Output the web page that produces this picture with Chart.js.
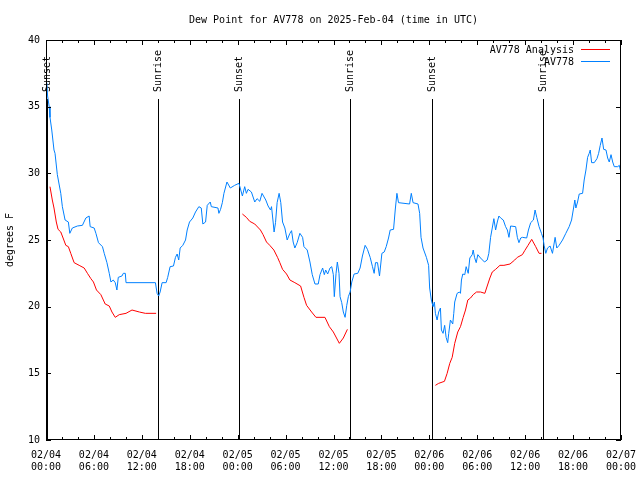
<!DOCTYPE html>
<html><head><meta charset="utf-8">
<script src="https://cdn.jsdelivr.net/npm/chart.js@4/dist/chart.umd.min.js"></script>
<style>html,body{margin:0;padding:0;background:#fff}</style>
</head><body>
<canvas id="c" width="640" height="480"></canvas>
<script>
const titleText = "Dew Point for AV778 on 2025-Feb-04 (time in UTC)";
const yAxisTitle = "degrees F";
const xTickLabels = [
  ["02/04","00:00"],["02/04","06:00"],["02/04","12:00"],["02/04","18:00"],
  ["02/05","00:00"],["02/05","06:00"],["02/05","12:00"],["02/05","18:00"],
  ["02/06","00:00"],["02/06","06:00"],["02/06","12:00"],["02/06","18:00"],
  ["02/07","00:00"]
];
const seriesNames = ["AV778 Analysis", "AV778"];
const eventHours = [0.15, 14.07, 24.13, 38.07, 48.38, 62.2];
const eventLabels = ["Sunset","Sunrise","Sunset","Sunrise","Sunset","Sunrise"];

// AV778 observations (hours since 02/04 00:00 UTC, degrees F)
const obsHours = [0.1,0.2,0.4,0.5,0.72,1.0,1.13,1.42,1.85,2.05,2.39,2.8,2.98,3.3,3.93,4.56,4.99,5.4,5.53,6.03,6.25,6.57,7.07,7.29,7.63,7.92,8.13,8.42,8.67,8.88,9.05,9.51,9.68,9.93,10.02,13.7,13.91,14.11,14.29,14.54,15.04,15.24,15.54,15.96,16.21,16.42,16.62,16.8,17.13,17.47,17.68,17.97,18.18,18.38,18.72,19.14,19.44,19.64,19.98,20.19,20.57,20.7,21.53,21.65,21.86,22.08,22.28,22.66,23.08,23.62,24.16,24.59,24.88,25.09,25.3,25.72,26.14,26.43,26.77,27.05,27.52,27.81,28.11,28.24,28.44,28.56,28.74,28.94,29.19,29.4,29.62,29.91,30.2,30.54,30.75,30.95,31.16,31.45,31.79,32.13,32.3,32.71,33.05,33.34,33.68,34.09,34.31,34.64,34.85,35.02,35.27,35.56,35.78,35.98,36.1,36.32,36.48,36.69,36.82,37.03,37.23,37.45,37.66,37.86,38.08,38.29,38.58,39.04,39.33,39.62,39.96,40.25,40.59,40.88,41.09,41.26,41.51,41.76,42.06,42.35,42.6,42.89,43.1,43.52,43.73,43.94,44.14,45.53,45.74,45.96,46.58,46.79,46.96,47.21,47.63,47.91,48.04,48.25,48.47,48.63,48.76,48.97,49.17,49.39,49.51,49.72,49.92,50.1,50.3,50.43,50.64,50.93,51.06,51.18,51.48,51.77,51.9,52.02,52.19,52.44,52.61,52.87,53.07,53.37,53.49,53.66,53.87,54.07,54.41,54.91,55.25,55.45,55.67,55.88,56.08,56.3,56.51,56.71,56.93,57.26,57.55,57.77,57.97,58.18,58.81,59.02,59.22,59.44,59.65,60.19,60.41,60.69,61.03,61.24,61.45,61.74,62.04,62.24,62.37,62.58,62.8,63.12,63.42,63.75,63.96,64.25,64.68,65.09,65.51,65.81,66.06,66.22,66.35,66.56,66.77,67.19,67.39,67.61,67.82,68.02,68.15,68.32,68.65,68.99,69.2,69.4,69.62,69.83,70.12,70.33,70.53,70.75,70.96,71.16,71.59,71.79,71.92];
const obsValues = [36.8,35.8,35.0,34.2,33.25,31.75,31.5,29.9,28.5,27.5,26.5,26.35,25.5,25.9,26.05,26.1,26.65,26.8,26.0,25.9,25.5,24.8,24.5,24.0,23.3,22.5,21.85,22.0,21.8,21.25,22.2,22.3,22.5,22.5,21.8,21.8,21.0,20.8,21.1,21.8,21.8,22.2,23.0,23.05,23.7,23.95,23.5,24.4,24.6,25.0,25.75,26.35,26.5,26.65,27.1,27.5,27.4,26.2,26.35,27.6,27.85,27.5,27.4,27.0,27.3,27.8,28.5,29.35,28.9,29.1,29.25,28.3,29.0,28.5,28.8,28.6,27.85,28.1,27.9,28.5,28.0,27.55,27.25,27.5,26.35,25.6,26.3,27.8,28.5,27.8,26.35,25.9,25.0,25.5,25.7,24.85,24.4,24.8,25.5,25.2,24.5,24.25,23.35,22.4,21.7,21.7,22.4,22.9,22.4,22.75,22.45,22.9,23.0,22.4,20.75,22.5,23.35,22.5,20.75,20.3,19.6,19.2,20.1,20.75,21.1,21.85,22.45,22.5,22.9,23.8,24.6,24.3,23.7,23.0,22.5,23.3,23.3,22.3,24.0,24.1,24.5,25.15,25.75,25.8,27.25,28.5,27.8,27.7,28.5,27.8,27.7,27.0,25.2,24.4,23.7,23.1,21.4,20.5,20.0,20.35,19.5,19.0,19.6,19.9,18.25,18.0,18.6,17.7,17.3,18.0,19.0,18.7,19.5,20.35,21.0,21.1,21.0,22.0,22.45,22.4,23.0,22.5,23.65,23.9,24.25,23.7,23.3,23.9,23.65,23.35,23.5,24.0,25.2,25.9,26.6,25.75,26.35,26.8,26.65,26.5,26.0,25.75,25.2,26.05,26.0,25.2,24.8,25.15,25.2,25.15,25.75,26.3,26.5,27.25,26.7,26.0,25.5,25.15,24.6,24.0,24.4,24.55,24.0,25.2,24.4,24.6,25.0,25.5,26.0,26.5,27.4,28.0,27.4,27.85,28.45,28.5,29.5,30.25,31.2,31.5,31.75,30.8,30.8,31.1,31.5,32.1,32.65,31.8,31.75,31.15,30.85,31.4,30.85,30.5,30.5,30.6,30.25];

// AV778 Analysis (null = gap)
const anaHours = [0.5,0.79,1.0,1.29,1.51,1.85,2.14,2.48,2.8,3.1,3.52,4.15,4.78,5.19,5.62,5.94,6.32,6.87,7.41,7.92,8.26,8.67,9.17,10.02,10.77,11.69,12.44,13.79,19,24.59,25.09,25.51,26.14,26.85,27.18,27.61,28.02,28.53,28.99,29.28,29.62,30.12,30.54,31.16,31.88,32.3,32.63,33.26,33.8,34.93,35.48,35.98,36.73,37.23,37.74,43,48.76,49.17,49.89,50.23,50.56,50.86,51.18,51.56,51.9,52.24,52.53,52.82,53.16,53.49,53.91,54.41,54.95,55.25,55.58,55.88,56.3,56.84,57.34,58.1,58.69,59.02,59.65,59.94,60.36,60.82,61.32,61.74,62.04];
const anaValues = [29.0,28.0,27.4,26.35,25.8,25.6,25.15,24.6,24.5,24.0,23.3,23.1,22.9,22.5,22.1,21.85,21.25,20.9,20.2,20.05,19.6,19.2,19.4,19.5,19.75,19.6,19.5,19.5,null,26.95,26.7,26.4,26.2,25.75,25.4,24.85,24.6,24.25,23.7,23.3,22.8,22.45,22.0,21.8,21.55,20.7,20.1,19.6,19.2,19.2,18.5,18.1,17.25,17.65,18.3,null,14.1,14.25,14.4,15.0,15.75,16.2,17.25,18.1,18.5,19.2,19.75,20.5,20.65,20.9,21.1,21.1,21.0,21.55,22.15,22.6,22.8,23.1,23.1,23.2,23.5,23.7,23.9,24.2,24.6,25.05,24.5,24.0,24.0];

const FONT = '10px "DejaVu Sans Mono"';
const RED = '#ff0000';
const BLUE = '#0080ff';

const gnuplotFrame = {
  id: 'gnuplotFrame',
  beforeDatasetsDraw(chart) {
    const {ctx, chartArea: a, scales: {x}} = chart;
    ctx.save();
    ctx.strokeStyle = '#000'; ctx.fillStyle = '#000'; ctx.lineWidth = 1;
    ctx.font = FONT;
    eventHours.forEach((h, i) => {
      const px = Math.round(x.getPixelForValue(h)) + 0.5;
      ctx.beginPath(); ctx.moveTo(px, a.top + 59); ctx.lineTo(px, a.bottom); ctx.stroke();
      ctx.save();
      ctx.translate(px, a.top + 52);
      ctx.rotate(-Math.PI / 2);
      ctx.textAlign = 'left'; ctx.textBaseline = 'middle';
      ctx.fillText(eventLabels[i], 0, 0);
      ctx.restore();
    });
    ctx.restore();
  },
  afterDatasetsDraw(chart) {
    const {ctx, chartArea: a, scales: {x, y}} = chart;
    ctx.save();
    ctx.strokeStyle = '#000'; ctx.lineWidth = 1;
    ctx.strokeRect(a.left + 0.5, a.top + 0.5, a.right - a.left - 1, a.bottom - a.top - 1);
    ctx.beginPath();
    for (let h = 0; h <= 72; h += 2) {
      const px = Math.round(x.getPixelForValue(h)) + 0.5;
      const len = (h % 6 === 0) ? 5 : 3;
      ctx.moveTo(px, a.bottom); ctx.lineTo(px, a.bottom - len);
      ctx.moveTo(px, a.top); ctx.lineTo(px, a.top + len);
    }
    for (let v = 10; v <= 40; v += 5) {
      const py = Math.round(y.getPixelForValue(v)) + 0.5;
      ctx.moveTo(a.left, py); ctx.lineTo(a.left + 5, py);
      ctx.moveTo(a.right, py); ctx.lineTo(a.right - 5, py);
    }
    ctx.stroke();
    ctx.font = FONT; ctx.fillStyle = '#000';
    ctx.textAlign = 'right'; ctx.textBaseline = 'middle';
    const cols = [RED, BLUE];
    seriesNames.forEach((n, i) => {
      const ty = a.top + 10 + i * 12;
      ctx.fillText(n, a.right - 47, ty);
      ctx.strokeStyle = cols[i];
      ctx.beginPath();
      ctx.moveTo(a.right - 40, Math.round(ty) - 0.5);
      ctx.lineTo(a.right - 11, Math.round(ty) - 0.5);
      ctx.stroke();
    });
    ctx.textAlign = 'center';
    ctx.fillText(titleText, (a.left + a.right) / 2, 20);
    ctx.save();
    ctx.translate(10, (a.top + a.bottom) / 2);
    ctx.rotate(-Math.PI / 2);
    ctx.fillText(yAxisTitle, 0, 0);
    ctx.restore();
    ctx.restore();
  }
};

new Chart(document.getElementById('c'), {
  type: 'line',
  data: {
    datasets: [
      {
        label: seriesNames[1],
        data: obsHours.map((h, i) => ({x: h, y: obsValues[i]})),
        borderColor: BLUE, borderWidth: 1, pointRadius: 0, tension: 0, fill: false
      },
      {
        label: seriesNames[0],
        data: anaHours.map((h, i) => ({x: h, y: anaValues[i]})),
        borderColor: RED, borderWidth: 1, pointRadius: 0, tension: 0, fill: false, spanGaps: false
      }
    ]
  },
  options: {
    responsive: false,
    devicePixelRatio: 1,
    animation: false,
    layout: {padding: {left: 0, right: 19, top: 40, bottom: 0}},
    plugins: {legend: {display: false}, title: {display: false}, tooltip: {enabled: false}},
    scales: {
      x: {
        type: 'linear', min: 0, max: 72,
        grid: {display: false, drawTicks: false}, border: {display: false},
        ticks: {
          stepSize: 6, autoSkip: false, maxRotation: 0, minRotation: 0, padding: 9,
          color: '#000', font: {family: 'DejaVu Sans Mono', size: 10},
          callback: (v) => xTickLabels[Math.round(v / 6)]
        },
        afterFit: (s) => { s.height = 40; s.paddingLeft = 0; s.paddingRight = 0; }
      },
      y: {
        min: 10, max: 40,
        grid: {display: false, drawTicks: false}, border: {display: false},
        ticks: {stepSize: 5, padding: 6, color: '#000', font: {family: 'DejaVu Sans Mono', size: 10}},
        afterFit: (s) => { s.width = 46; s.paddingTop = 0; s.paddingBottom = 0; }
      }
    }
  },
  plugins: [gnuplotFrame]
});
</script>
</body></html>
